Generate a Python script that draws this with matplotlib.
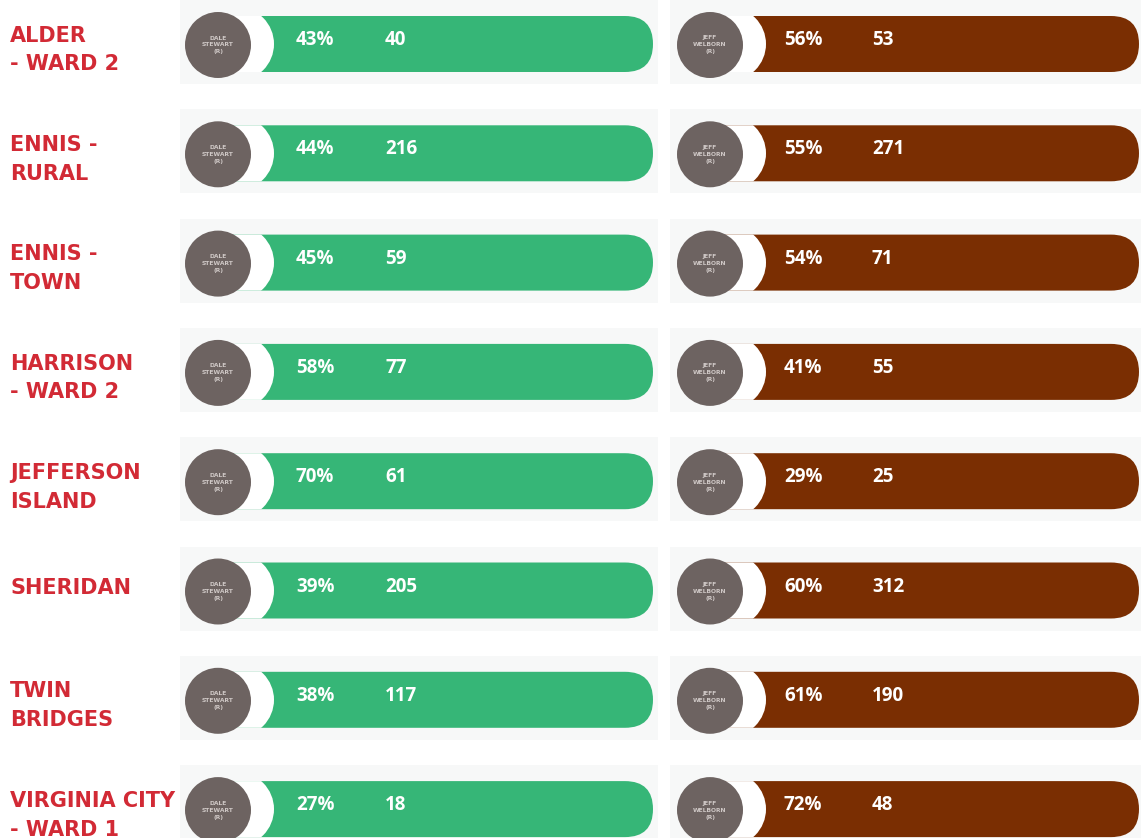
import matplotlib
matplotlib.use("Agg")
import matplotlib.pyplot as plt
from matplotlib.patches import FancyBboxPatch, Circle, Rectangle

# Precinct results, Dale Stewart (R) vs Jeff Welborn (R)
precincts = ["ALDER\n- WARD 2", "ENNIS -\nRURAL", "ENNIS -\nTOWN", "HARRISON\n- WARD 2",
             "JEFFERSON\nISLAND", "SHERIDAN", "TWIN\nBRIDGES", "VIRGINIA CITY\n- WARD 1"]
stewart_pct = [43, 44, 45, 58, 70, 39, 38, 27]
stewart_votes = [40, 216, 59, 77, 61, 205, 117, 18]
welborn_pct = [56, 55, 54, 41, 29, 60, 61, 72]
welborn_votes = [53, 271, 71, 55, 25, 312, 190, 48]

candidates = ["DALE\nSTEWART\n(R)", "JEFF\nWELBORN\n(R)"]

GREEN = "#36b677"
BROWN = "#7a2e02"
GREY = "#6d6361"
RED = "#d22a35"
PANEL = "#f7f8f8"

W, H = 1141, 838
fig = plt.figure(figsize=(W / 100, H / 100), dpi=100)
ax = fig.add_axes([0, 0, 1, 1])
ax.set_xlim(0, W)
ax.set_ylim(H, 0)
ax.axis("off")

row_gap = 109.3
first_row = 44

# geometry of each side: panel x-range, circle centre x, pill right end, text x's
sides = [
    dict(panel=(180, 658), cx=218, right=653, txt=(296, 385), color=GREEN),
    dict(panel=(670, 1141), cx=710, right=1139, txt=(784, 872), color=BROWN),
]


def draw_side(y, side, name, pct, votes):
    p0, p1 = side["panel"]
    ax.add_patch(Rectangle((p0, y - 44), p1 - p0, 84, color=PANEL, lw=0, zorder=1))
    cx = side["cx"]
    x0 = cx - 10  # left end of the pill hides under the circle
    pill = FancyBboxPatch((x0, y - 28), side["right"] - x0, 56,
                          boxstyle="round,pad=0,rounding_size=28",
                          fc=side["color"], ec="none", zorder=2)
    ax.add_patch(pill)
    # white crescent cut into the pill, behind the candidate circle
    notch = Circle((cx + 19, y), 37, fc="white", ec="none", zorder=3)
    ax.add_patch(notch)
    notch.set_clip_path(pill)
    ax.add_patch(Circle((cx, y + 1), 33, fc=GREY, ec="none", zorder=4))
    ax.text(cx, y + 1, name, ha="center", va="center", fontsize=4.3,
            color="#cfc8c6", fontweight="bold", linespacing=1.5, zorder=5)
    tx0, tx1 = side["txt"]
    ax.text(tx0, y - 4, f"{pct}%", ha="left", va="center", fontsize=13.5,
            color="white", fontweight="bold", family="Open Sans", zorder=5)
    ax.text(tx1, y - 4, f"{votes}", ha="left", va="center", fontsize=13.5,
            color="white", fontweight="bold", family="Open Sans", zorder=5)


for i, label in enumerate(precincts):
    y = first_row + i * row_gap
    offset = 6 if "\n" in label else -3
    ax.text(10, y + offset, label, ha="left", va="center", fontsize=15,
            color=RED, fontweight="bold", linespacing=1.55, zorder=5)
    draw_side(y, sides[0], candidates[0], stewart_pct[i], stewart_votes[i])
    draw_side(y, sides[1], candidates[1], welborn_pct[i], welborn_votes[i])

fig.savefig("out.png", dpi=100, facecolor="white")
